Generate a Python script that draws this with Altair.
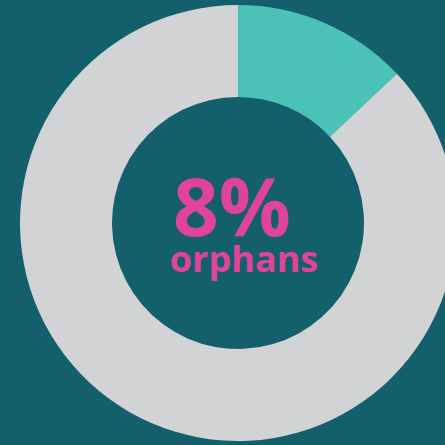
import altair as alt
import pandas as pd

categories = ["orphans", "other"]
values = [13, 87]
colors = ["#4ac2b7", "#d2d3d5"]
big_label = ["8%"]
small_label = ["orphans"]

df = pd.DataFrame({"category": categories, "value": values, "order": [0, 1]})

donut = alt.Chart(df).mark_arc(
    innerRadius=126, outerRadius=218, x=238, y=223, stroke=None
).encode(
    theta=alt.Theta("value:Q", stack=True),
    order=alt.Order("order:Q"),
    color=alt.Color("category:N", scale=alt.Scale(domain=categories, range=colors), legend=None),
)

t1 = alt.Chart(pd.DataFrame({"t": big_label})).mark_text(
    font="Open Sans", fontWeight=700, fontSize=80, color="#e0449a",
    x=232, y=236, baseline="alphabetic", align="center"
).encode(text="t:N")

t2 = alt.Chart(pd.DataFrame({"t": small_label})).mark_text(
    font="Open Sans", fontWeight=700, fontSize=36, color="#e0449a",
    x=244, y=272, baseline="alphabetic", align="center"
).encode(text="t:N")

chart = alt.layer(donut, t1, t2).properties(
    width=445, height=445, autosize=alt.AutoSizeParams(type="none"), padding=0,
    background="#135f6c"
).configure_view(stroke=None)

chart.save("out.html", embed_options={"renderer": "svg", "actions": False})
